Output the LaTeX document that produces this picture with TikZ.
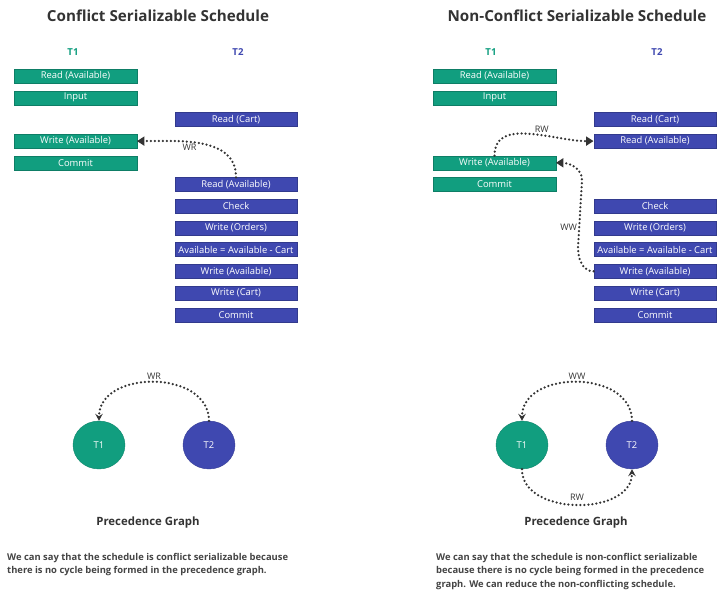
\documentclass[tikz,border=0pt]{standalone}
\usepackage{fontspec}
\setmainfont{Open Sans}
\usetikzlibrary{arrows.meta, positioning, shapes.geometric}

\definecolor{tealone}{RGB}{17,158,127}
\definecolor{bluetwo}{RGB}{63,72,176}
\definecolor{inkgray}{RGB}{51,51,51}
\definecolor{notegray}{RGB}{68,68,68}

\tikzset{
  opbox/.style={draw=#1!80!black, fill=#1, text=white, minimum width=122.5pt,
    minimum height=14pt, inner sep=0pt, font=\fontsize{9.4}{10}\selectfont},
  txhead/.style={text=#1, font=\fontsize{9.6}{11}\bfseries},
  gnode/.style={ellipse, fill=#1, draw=#1!85!black, text=white, minimum width=52pt,
    minimum height=48pt, inner sep=0pt, font=\fontsize{9.4}{11}\selectfont},
  dotlink/.style={draw=inkgray, line width=2.5pt, dash pattern=on 0pt off 4pt, line cap=round},
  bigtip/.style={-{Triangle[length=7.5pt,width=9pt]}},
  smalltip/.style={-{Stealth[length=7pt,width=7.5pt,inset=2.5pt]}},
  linklabel/.style={text=inkgray, font=\fontsize{9}{10}\selectfont, inner sep=1pt},
  title/.style={text=inkgray, font=\fontsize{15.2}{18}\bfseries},
  graphtitle/.style={text=inkgray, font=\fontsize{11.4}{13}\bfseries},
  note/.style={text=notegray, font=\fontsize{9.4}{13.5}\bfseries, align=left, anchor=north west, inner sep=0pt}
}

\begin{document}
\begin{tikzpicture}[x=1pt, y=1pt, node distance=7.3pt]
    \useasboundingbox (0,0) rectangle (726,-613);

    % Left: conflict serializable schedule
    \node[title] (ltitle) at (158,-16) {Conflict Serializable Schedule};
    \node[txhead=tealone] (lhone) at (73,-52) {T1};
    \node[txhead=bluetwo] (lhtwo) at (238,-52) {T2};

    \node[opbox=tealone] (laread) at (75.5,-76) {Read (Available)};
    \node[opbox=tealone, below=of laread] (lainput) {Input};
    \node[opbox=tealone, below=29pt of lainput] (lawrite) {Write (Available)};
    \node[opbox=tealone, below=of lawrite] (lacommit) {Commit};

    \node[opbox=bluetwo] (lbcart) at (236,-119.4) {Read (Cart)};
    \node[opbox=bluetwo, below=50.7pt of lbcart] (lbread) {Read (Available)};
    \node[opbox=bluetwo, below=of lbread] (lbcheck) {Check};
    \node[opbox=bluetwo, below=of lbcheck] (lborders) {Write (Orders)};
    \node[opbox=bluetwo, below=of lborders] (lbcalc) {Available = Available - Cart};
    \node[opbox=bluetwo, below=of lbcalc] (lbwrite) {Write (Available)};
    \node[opbox=bluetwo, below=of lbwrite] (lbwcart) {Write (Cart)};
    \node[opbox=bluetwo, below=of lbwcart] (lbcommit) {Commit};

    \draw[dotlink, bigtip] (lbread.north) to[out=90, in=0]
        node[linklabel, pos=0.6, below] {WR} (lawrite.east);

    % Right: non-conflict serializable schedule
    \node[title] (rtitle) at (577,-16) {Non-Conflict Serializable Schedule};
    \node[txhead=tealone] (rhone) at (491,-52) {T1};
    \node[txhead=bluetwo] (rhtwo) at (657,-52) {T2};

    \node[opbox=tealone] (raread) at (494.5,-76) {Read (Available)};
    \node[opbox=tealone, below=of raread] (rainput) {Input};
    \node[opbox=tealone, below=50.7pt of rainput] (rawrite) {Write (Available)};
    \node[opbox=tealone, below=of rawrite] (racommit) {Commit};

    \node[opbox=bluetwo] (rbcart) at (655,-119.4) {Read (Cart)};
    \node[opbox=bluetwo, below=of rbcart] (rbread) {Read (Available)};
    \node[opbox=bluetwo, below=50.7pt of rbread] (rbcheck) {Check};
    \node[opbox=bluetwo, below=of rbcheck] (rborders) {Write (Orders)};
    \node[opbox=bluetwo, below=of rborders] (rbcalc) {Available = Available - Cart};
    \node[opbox=bluetwo, below=of rbcalc] (rbwrite) {Write (Available)};
    \node[opbox=bluetwo, below=of rbwrite] (rbwcart) {Write (Cart)};
    \node[opbox=bluetwo, below=of rbwcart] (rbcommit) {Commit};

    \coordinate (wwlow) at (578,-248);
    \coordinate (wwhigh) at (582,-180);

    \draw[dotlink, bigtip] (rawrite.north) to[out=90, in=180]
        node[linklabel, pos=0.6, above] {RW} (rbread.west);
    \draw[dotlink, bigtip] (rbwrite.west) to[out=180, in=-90] (wwlow)
        -- node[linklabel, pos=0.3, left] {WW} (wwhigh)
        to[out=90, in=0] (rawrite.east);

    % Precedence graphs
    \node[gnode=tealone] (lgone) at (99,-445) {T1};
    \node[gnode=bluetwo] (lgtwo) at (209,-445) {T2};
    \draw[dotlink, smalltip] (lgtwo.north) to[out=90, in=90, looseness=1.2]
        node[linklabel, midway, above] {WR} (lgone.north);
    \node[graphtitle] (lgtitle) at (148,-523) {Precedence Graph};

    \node[gnode=tealone] (rgone) at (522,-445) {T1};
    \node[gnode=bluetwo] (rgtwo) at (632,-445) {T2};
    \draw[dotlink, smalltip] (rgtwo.north) to[out=90, in=90, looseness=1.2]
        node[linklabel, midway, above] {WW} (rgone.north);
    \draw[dotlink, smalltip] (rgone.south) to[out=-90, in=-90, looseness=1.1]
        node[linklabel, midway, above, inner sep=3pt] {RW} (rgtwo.south);
    \node[graphtitle] (rgtitle) at (576,-523) {Precedence Graph};

    % Notes
    \node[note] (lnote) at (7,-553) {We can say that the schedule is conflict serializable because\\
        there is no cycle being formed in the precedence graph.};
    \node[note] (rnote) at (436,-553) {We can say that the schedule is non-conflict serializable\\
        because there is no cycle being formed in the precedence\\
        graph. We can reduce the non-conflicting schedule.};
\end{tikzpicture}
\end{document}
